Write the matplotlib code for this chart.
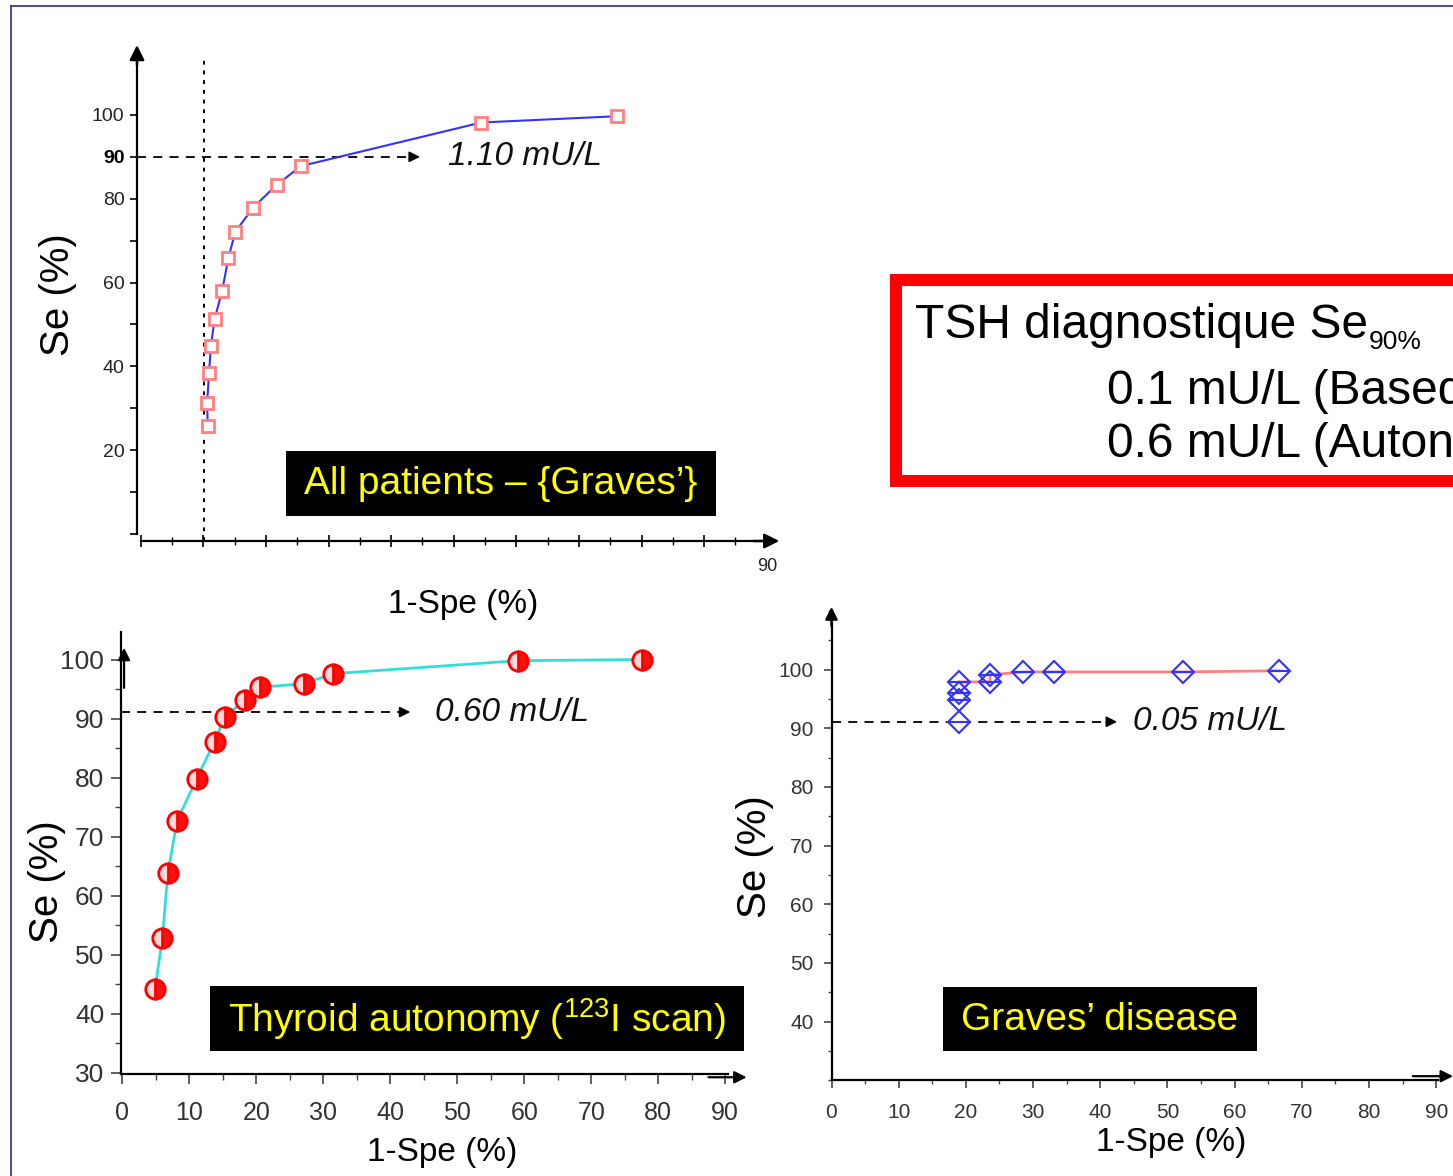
import matplotlib
matplotlib.use("Agg")
import matplotlib.pyplot as plt
from matplotlib import font_manager
from matplotlib.patches import Rectangle
from matplotlib.lines import Line2D
from matplotlib.ticker import MultipleLocator

# ROC points: 1-Spe (%) vs Se (%)
all_fpr = [10.7, 10.6, 10.9, 11.2, 11.8, 13.0, 14.0, 15.1, 17.9, 21.7, 25.6, 54.4, 76.1]
all_se = [25.7, 31.2, 38.3, 44.8, 51.3, 58.0, 65.9, 72.1, 77.8, 83.3, 87.8, 98.2, 99.7]

auto_fpr = [4.9, 6.0, 6.8, 8.2, 11.1, 13.8, 15.3, 18.3, 20.6, 27.1, 31.5, 59.0, 77.6]
auto_se = [44.2, 52.8, 63.8, 72.7, 79.8, 86.1, 90.3, 93.1, 95.3, 95.9, 97.6, 99.8, 100.0]

graves_fpr = [19.0, 19.0, 19.0, 19.0, 23.6, 23.6, 28.5, 33.1, 52.3, 66.6]
graves_se = [91.1, 94.8, 96.0, 97.9, 97.9, 99.1, 99.6, 99.6, 99.6, 99.8]

# Se90 cut-off lines and their TSH thresholds
all_cut_se, all_cut_label = 90.0, "1.10 mU/L"
auto_cut_se, auto_cut_label = 91.1, "0.60 mU/L"
graves_cut_se, graves_cut_label = 91.1, "0.05 mU/L"
all_ref_fpr = 10.1

panel_titles = ["All patients \u2013 {Graves\u2019}",
                "Thyroid autonomy ($\\mathregular{^{123}}$I scan)",
                "Graves\u2019 disease"]
box_title, box_sub = "TSH diagnostique Se", "90%"
box_lines = ["0.1 mU/L (Based", "0.6 mU/L (Auton"]

W, H = 1453, 1176
fig = plt.figure(figsize=(W / 100, H / 100), dpi=100)
fig.patch.set_facecolor("white")

names = {f.name for f in font_manager.fontManager.ttflist}
SANS = "Liberation Sans" if "Liberation Sans" in names else "DejaVu Sans"
plt.rcParams["font.family"] = SANS


def rect(x0, y0, x1, y1):
    return [x0 / W, 1 - y1 / H, (x1 - x0) / W, (y1 - y0) / H]


def ftext(x, y, s, **kw):
    return fig.text(x / W, 1 - y / H, s, **kw)


def label_box(x0, y0, x1, y1, s, size):
    fig.add_artist(Rectangle((x0 / W, 1 - y1 / H), (x1 - x0) / W, (y1 - y0) / H,
                             transform=fig.transFigure, facecolor="black",
                             edgecolor="none", zorder=5))
    ftext((x0 + x1) / 2, (y0 + y1) / 2 + 1, s, color="#ffff00", fontsize=size,
          ha="center", va="center", zorder=6)


def arrow(ax, xy, xytext, coords="axes fraction", lw=1.8, ms=20, color="black"):
    ax.annotate("", xy=xy, xytext=xytext, xycoords=coords, textcoords=coords,
                arrowprops=dict(arrowstyle="-|>", color=color, lw=lw,
                                mutation_scale=ms, shrinkA=0, shrinkB=0),
                annotation_clip=False)


def cut_line(ax, x0, x1, y, label, lx):
    ax.plot([x0, x1 - 1.5], [y, y], linestyle=(0, (5, 4)), color="black", lw=1.3,
            clip_on=False, zorder=2)
    arrow(ax, (x1, y), (x1 - 1.6, y), coords="data", lw=1.2, ms=16)
    ax.text(lx, y, label, fontsize=24, style="italic", ha="left", va="center",
            color="#111111")


# slide frame
fig.add_artist(Line2D([11 / W, 11 / W], [0, 1 - 6 / H], color="#3c3c9c", lw=1.3,
                      transform=fig.transFigure))
fig.add_artist(Line2D([11 / W, 1], [1 - 6 / H, 1 - 6 / H], color="#3c3c9c", lw=1.3,
                      transform=fig.transFigure))

# ---- all patients ----
ax1 = fig.add_axes(rect(137, 45, 779.3, 541))
ax1.set_xlim(-0.6, 102.0)
ax1.set_ylim(-1.7, 116.7)
ax1.patch.set_alpha(0)
for s in ["top", "right"]:
    ax1.spines[s].set_visible(False)
ax1.spines["left"].set_bounds(0, 114)
ax1.spines["bottom"].set_bounds(0, 100)
for s in ["left", "bottom"]:
    ax1.spines[s].set_linewidth(1.6)
arrow(ax1, (0, 1), (0, 0.96), ms=22)
arrow(ax1, (1, 0), (0.96, 0), ms=22)
ax1.set_xticks(range(0, 100, 10))
ax1.xaxis.set_minor_locator(MultipleLocator(5))
ax1.tick_params(axis="x", which="major", direction="inout", length=9, width=1.2,
                labelbottom=False)
ax1.tick_params(axis="x", which="minor", direction="inout", length=6, width=1.0)
y1_ticks = list(range(0, 110, 10))
y1_labels = {100: "100", 90: "90", 80: "80", 60: "60", 40: "40", 20: "20"}
ax1.set_yticks(y1_ticks, [y1_labels.get(t, "") for t in y1_ticks])
ax1.tick_params(axis="y", direction="out", length=5, width=1.2, labelsize=14,
                labelcolor="#222222", pad=4)
for t, lab in zip(y1_ticks, ax1.get_yticklabels()):
    if t == 90:
        lab.set_fontweight("bold")
        lab.set_color("black")
ax1.text(100, -7.7, "90", fontsize=13, ha="center", va="center", color="#222222")
ax1.plot([all_ref_fpr, all_ref_fpr], [-1.7, 113.8], linestyle=(0, (2, 3)),
         color="black", lw=1.4, clip_on=False)
cut_line(ax1, -0.6, 44.6, all_cut_se, all_cut_label, 49.1)
ax1.plot(all_fpr, all_se, color="#3333ff", lw=1.5, zorder=3)
ax1.plot(all_fpr, all_se, linestyle="none", marker="s", markersize=9,
         markerfacecolor="white", markeredgecolor="#ff8080", mew=2, zorder=4)
ftext(58, 295, "Se (%)", fontsize=29, rotation=90, ha="center", va="center")
ftext(463, 605, "1-Spe (%)", fontsize=24, ha="center", va="center")
label_box(286, 451, 716, 516, panel_titles[0], 28)

# ---- thyroid autonomy ----
ax2 = fig.add_axes(rect(120.9, 631.8, 727.9, 1074.3))
ax2.set_xlim(-0.2, 90.4)
ax2.set_ylim(29.7, 104.7)
ax2.patch.set_alpha(0)
for s in ["top", "right"]:
    ax2.spines[s].set_visible(False)
ax2.spines["bottom"].set_bounds(-0.2, 90.4)
for s in ["left", "bottom"]:
    ax2.spines[s].set_linewidth(1.6)
ax2.set_xticks(range(0, 100, 10))
ax2.set_yticks(range(30, 110, 10))
ax2.xaxis.set_minor_locator(MultipleLocator(5))
ax2.yaxis.set_minor_locator(MultipleLocator(5))
ax2.tick_params(which="major", direction="out", length=7, width=1.2, color="#444444")
ax2.tick_params(which="minor", direction="out", length=4, width=1.0, color="#444444")
ax2.tick_params(axis="x", labelsize=18, pad=12, labelcolor="#333333")
ax2.tick_params(axis="y", labelsize=19, pad=5, labelcolor="#333333")
arrow(ax2, (0.27, 102.0), (0.27, 95.2), coords="data", lw=1.6, ms=18)
arrow(ax2, (93.2, 29.2), (87.5, 29.2), coords="data", lw=1.6, ms=18)
cut_line(ax2, -0.2, 43.0, auto_cut_se, auto_cut_label, 46.7)
ax2.plot(auto_fpr, auto_se, color="#33dddd", lw=2.0, zorder=3)
ax2.plot(auto_fpr, auto_se, linestyle="none", marker="o", markersize=14,
         fillstyle="right", markerfacecolor="#ff1010", markerfacecoloralt="#ffd8d8",
         markeredgecolor="#ff0000", mew=2, zorder=4)
ftext(47, 882, "Se (%)", fontsize=29, rotation=90, ha="center", va="center")
ftext(442, 1152, "1-Spe (%)", fontsize=24, ha="center", va="center")
label_box(210, 986, 744, 1051, panel_titles[1], 28)

# ---- Graves' disease ----
ax3 = fig.add_axes(rect(831.5, 606.8, 1438.3, 1080.3))
ax3.set_xlim(0, 90.3)
ax3.set_ylim(30, 110.7)
ax3.patch.set_alpha(0)
for s in ["top", "right"]:
    ax3.spines[s].set_visible(False)
ax3.spines["left"].set_bounds(30, 108)
for s in ["left", "bottom"]:
    ax3.spines[s].set_linewidth(1.6)
arrow(ax3, (0, 1), (0, 0.96), ms=18)
ax3.set_xticks(range(0, 100, 10))
ax3.set_yticks(range(40, 110, 10))
ax3.xaxis.set_minor_locator(MultipleLocator(5))
ax3.yaxis.set_minor_locator(MultipleLocator(5))
ax3.tick_params(which="major", direction="out", length=6, width=1.2, color="#444444")
ax3.tick_params(which="minor", direction="out", length=3, width=1.0, color="#444444")
ax3.tick_params(axis="x", labelsize=15, pad=10, labelcolor="#333333")
ax3.tick_params(axis="y", labelsize=15, pad=7, labelcolor="#333333")
arrow(ax3, (92.5, 30.7), (86.5, 30.7), coords="data", lw=1.6, ms=18)
cut_line(ax3, 0, 42.5, graves_cut_se, graves_cut_label, 44.9)
ax3.plot(graves_fpr[3:], graves_se[3:], color="#ff8080", lw=2.0, zorder=3)
ax3.plot(graves_fpr, graves_se, linestyle="none", marker="D", markersize=11,
         markerfacecolor="none", markeredgecolor="#3333ff", mew=1.5, zorder=4)
ax3.plot(graves_fpr, graves_se, linestyle="none", marker="_", markersize=16,
         markeredgecolor="#3333ff", mew=1.5, zorder=4)
ftext(755, 857, "Se (%)", fontsize=29, rotation=90, ha="center", va="center")
ftext(1171, 1143, "1-Spe (%)", fontsize=24, ha="center", va="center")
label_box(943, 987, 1257, 1051, panel_titles[2], 28)

# ---- summary box ----
fig.add_artist(Rectangle((896 / W, 1 - 481 / H), 600 / W, 201 / H,
                         transform=fig.transFigure, facecolor="white",
                         edgecolor="#ff0000", lw=8.64, joinstyle="miter"))
title = ftext(915, 338, box_title, fontsize=34.5, va="baseline", ha="left")
fig.canvas.draw()
x_end = title.get_window_extent().x1
ftext(x_end + 1, 349, box_sub, fontsize=19, va="baseline", ha="left")
ftext(1107, 404, box_lines[0], fontsize=34.5, va="baseline", ha="left")
ftext(1107, 457, box_lines[1], fontsize=34.5, va="baseline", ha="left")

fig.savefig("out.png", dpi=100)
